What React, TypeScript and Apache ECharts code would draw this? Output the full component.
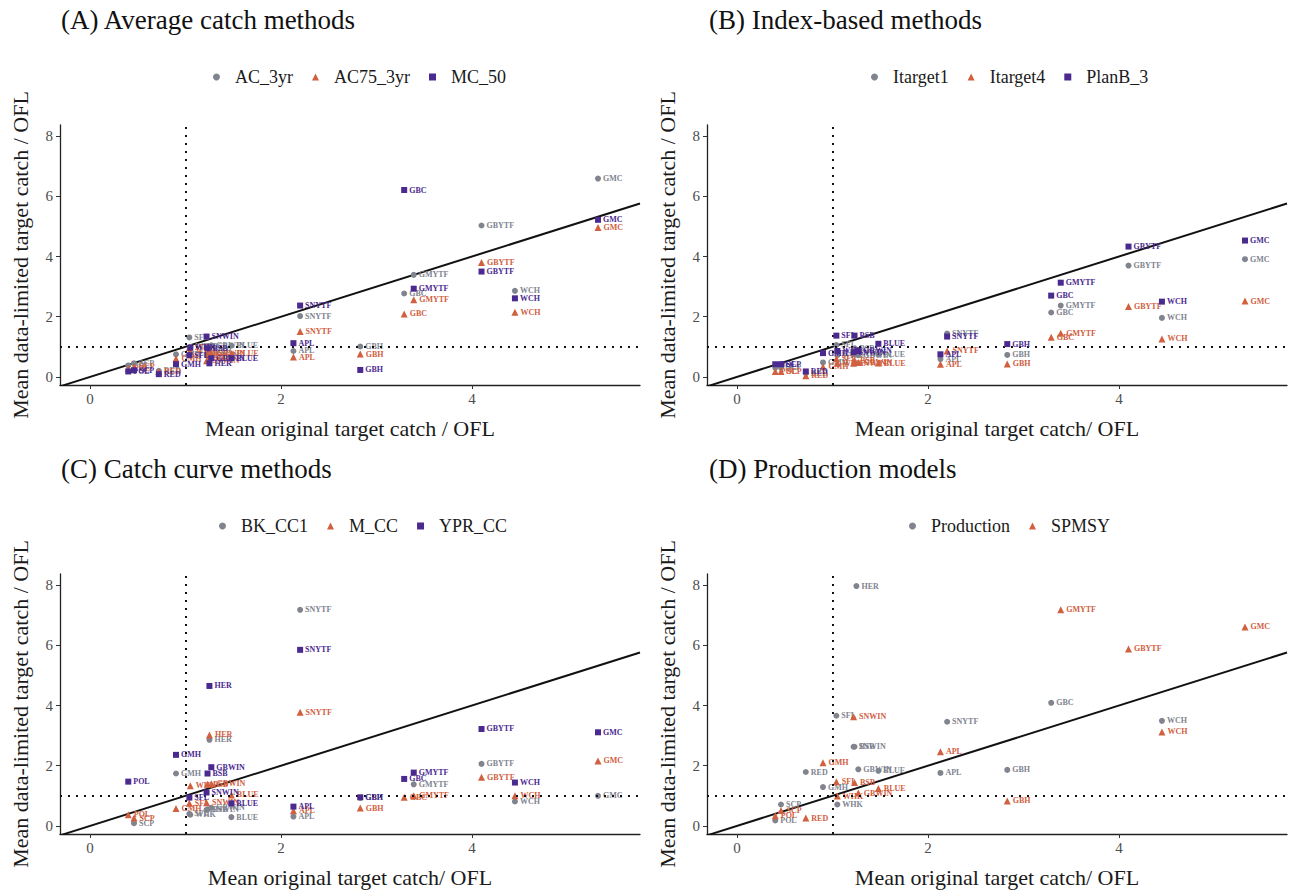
import React, { useEffect, useRef } from "react";
import * as echarts from "echarts";

// ---- Data ----
const stocks = ["APL", "BLUE", "BSB", "GBC", "GBH", "GBWIN", "GBYTF", "GMC", "GMH", "GMYTF", "HER", "POL", "RED", "SCP", "SFL", "SNWIN", "SNYTF", "WCH", "WHK"];
const originalCatchOFL = [2.13, 1.48, 1.23, 3.29, 2.83, 1.27, 4.10, 5.32, 0.90, 3.39, 1.25, 0.40, 0.72, 0.46, 1.04, 1.22, 2.20, 4.45, 1.05];

// (A) Average catch methods
const ac3yr = [0.86, 1.04, 1.02, 2.77, 1.01, 1.05, 5.03, 6.59, 0.75, 3.39, 0.88, 0.38, 0.20, 0.45, 1.31, 0.72, 2.02, 2.86, 1.00];
const ac75_3yr = [0.66, 0.78, 0.77, 2.09, 0.76, 0.79, 3.80, 4.96, 0.60, 2.56, 0.66, 0.29, 0.18, 0.34, 0.98, 0.54, 1.51, 2.15, 0.85];
const mc50 = [1.12, 0.62, 0.95, 6.21, 0.23, 0.62, 3.50, 5.22, 0.42, 2.93, 0.45, 0.18, 0.09, 0.22, 0.72, 1.34, 2.37, 2.61, 0.97];

// (B) Index-based methods
const itarget1 = [0.59, 0.74, 0.95, 2.14, 0.73, 0.72, 3.70, 3.91, 0.48, 2.37, null, 0.30, 0.12, 0.30, 1.06, 0.75, 1.44, 1.96, 0.72];
const itarget4 = [0.42, 0.46, 0.55, 1.32, 0.43, 0.48, 2.34, 2.52, 0.34, 1.45, null, 0.18, 0.04, 0.18, 0.60, 0.45, 0.86, 1.26, 0.45];
const planB3 = [0.75, 1.10, 1.37, 2.70, 1.09, 0.86, 4.33, 4.53, 0.79, 3.13, null, 0.42, 0.18, 0.42, 1.37, 0.82, 1.34, 2.50, 0.86];

// (C) Catch curve methods
const bkCC1 = [0.31, 0.29, 0.55, null, 0.93, 0.60, 2.06, 1.00, 1.74, 1.38, 2.86, null, null, 0.09, 0.40, 0.53, 7.18, 0.81, 0.37];
const mCC = [0.50, 1.03, 1.38, 0.95, 0.59, 1.40, 1.62, 2.16, 0.58, 1.00, 3.02, 0.37, null, 0.26, 0.75, 0.77, 3.78, 1.00, 1.33];
const yprCC = [0.64, 0.75, 1.74, 1.56, 0.95, 1.95, 3.22, 3.11, 2.36, 1.77, 4.65, 1.47, null, null, 0.94, 1.11, 5.85, 1.44, null];

// (D) Production models
const production = [1.76, 1.83, 2.63, 4.09, 1.86, 1.88, null, null, 1.29, null, 7.97, 0.18, 1.79, 0.71, 3.66, 2.63, 3.46, 3.49, 0.71];
const spmsy = [2.46, 1.24, 1.44, null, 0.83, 1.09, 5.88, 6.61, 2.10, 7.18, null, 0.34, 0.26, 0.51, 1.47, 3.63, null, 3.12, 0.99];

const panelTitles = ["(A) Average catch methods", "(B) Index-based methods", "(C) Catch curve methods", "(D) Production models"];
const panelSeriesNames = [
  ["AC_3yr", "AC75_3yr", "MC_50"],
  ["Itarget1", "Itarget4", "PlanB_3"],
  ["BK_CC1", "M_CC", "YPR_CC"],
  ["Production", "SPMSY"],
];
const panelSeriesValues = [
  [ac3yr, ac75_3yr, mc50],
  [itarget1, itarget4, planB3],
  [bkCC1, mCC, yprCC],
  [production, spmsy],
];
const xAxisTitles = [
  "Mean original target catch / OFL",
  "Mean original target catch/ OFL",
  "Mean original target catch/ OFL",
  "Mean original target catch/ OFL",
];
const yAxisTitle = "Mean data-limited target catch / OFL";
const xTicks = [0, 2, 4];
const yTicks = [0, 2, 4, 6, 8];
const referenceLevel = 1;

// ---- Styles ----
const FONT = "Liberation Serif";
const COLORS = ["#80848f", "#d0603f", "#4b2a8f"];
const SYMBOLS = ["circle", "triangle", "rect"];
const X_MIN = -0.315;
const X_MAX = 5.76;
const Y_MIN = -0.27;
const Y_MAX = 8.37;

const grids = [
  { left: 60, top: 125, width: 580, height: 260 },
  { left: 707, top: 125, width: 580, height: 260 },
  { left: 60, top: 574, width: 580, height: 260 },
  { left: 707, top: 574, width: 580, height: 260 },
];
const titlePos = [
  { left: 61, top: 6 },
  { left: 709, top: 6 },
  { left: 61, top: 455 },
  { left: 709, top: 455 },
];
const legendPos = [
  { left: 213, top: 68 },
  { left: 871, top: 68 },
  { left: 219, top: 517 },
  { left: 909, top: 517 },
];

function buildOption() {
  const series: any[] = [];
  const xAxes: any[] = [];
  const yAxes: any[] = [];
  panelTitles.forEach((_, i) => {
    xAxes.push({
      type: "value",
      gridIndex: i,
      min: X_MIN,
      max: X_MAX,
      name: xAxisTitles[i],
      nameLocation: "middle",
      nameGap: 32,
      nameTextStyle: { fontFamily: FONT, fontSize: 22, color: "#1a1a1a" },
      axisLine: { show: true, onZero: false, lineStyle: { color: "#222", width: 1.3 } },
      axisTick: { show: true, length: 4, lineStyle: { color: "#333" }, customValues: xTicks },
      axisLabel: { fontFamily: FONT, fontSize: 15, color: "#4d4d4d", margin: 6, customValues: xTicks },
      splitLine: { show: false },
    });
    yAxes.push({
      type: "value",
      gridIndex: i,
      min: Y_MIN,
      max: Y_MAX,
      name: yAxisTitle,
      nameLocation: "middle",
      nameGap: 29,
      nameTextStyle: { fontFamily: FONT, fontSize: 22, color: "#1a1a1a" },
      axisLine: { show: true, onZero: false, lineStyle: { color: "#222", width: 1.3 } },
      axisTick: { show: true, length: 4, lineStyle: { color: "#333" }, customValues: yTicks },
      axisLabel: { fontFamily: FONT, fontSize: 15, color: "#4d4d4d", margin: 7, customValues: yTicks },
      splitLine: { show: false },
    });
    // 1:1 line with reference dotted lines
    series.push({
      type: "line",
      xAxisIndex: i,
      yAxisIndex: i,
      data: [[X_MIN, X_MIN], [X_MAX, X_MAX]],
      symbol: "none",
      silent: true,
      z: 1,
      lineStyle: { color: "#111", width: 2 },
      markLine: {
        silent: true,
        symbol: "none",
        label: { show: false },
        lineStyle: { color: "#111", width: 2, type: [2, 6] },
        data: [{ xAxis: referenceLevel }, { yAxis: referenceLevel }],
      },
    });
    panelSeriesNames[i].forEach((name, k) => {
      const vals = panelSeriesValues[i][k];
      const data: any[] = [];
      vals.forEach((v, j) => {
        if (v !== null && v !== undefined) data.push([originalCatchOFL[j], v, stocks[j]]);
      });
      series.push({
        type: "scatter",
        name,
        xAxisIndex: i,
        yAxisIndex: i,
        symbol: SYMBOLS[k],
        symbolSize: k === 1 ? 7 : 6,
        itemStyle: { color: COLORS[k], opacity: 1 },
        z: 3 + k,
        data,
        label: {
          show: true,
          position: "right",
          distance: 2,
          formatter: (p: any) => p.data[2],
          fontFamily: FONT,
          fontSize: 8,
          fontWeight: "bold",
          color: COLORS[k],
        },
      });
    });
  });

  return {
    animation: false,
    backgroundColor: "#ffffff",
    textStyle: { fontFamily: FONT },
    title: panelTitles.map((t, i) => ({
      text: t,
      left: titlePos[i].left,
      top: titlePos[i].top,
      padding: 0,
      textStyle: { fontFamily: FONT, fontSize: 27, fontWeight: "normal", color: "#111" },
    })),
    legend: panelSeriesNames.map((names, i) => ({
      data: names,
      left: legendPos[i].left,
      top: legendPos[i].top,
      padding: 0,
      itemWidth: 7,
      itemHeight: 7,
      itemGap: 19,
      selectedMode: false,
      textStyle: { fontFamily: FONT, fontSize: 18, color: "#1a1a1a", padding: [0, 0, 0, 10] },
    })),
    grid: grids,
    xAxis: xAxes,
    yAxis: yAxes,
    series,
  };
}

export default function App() {
  const ref = useRef<HTMLDivElement>(null);
  useEffect(() => {
    if (!ref.current) return;
    const chart = echarts.init(ref.current, undefined, { renderer: "svg" });
    chart.setOption(buildOption() as any);
    return () => chart.dispose();
  }, []);
  return (
    <div
      ref={ref}
      style={{ position: "absolute", left: 0, top: 0, width: 1290, height: 892, background: "#fff" }}
    />
  );
}
